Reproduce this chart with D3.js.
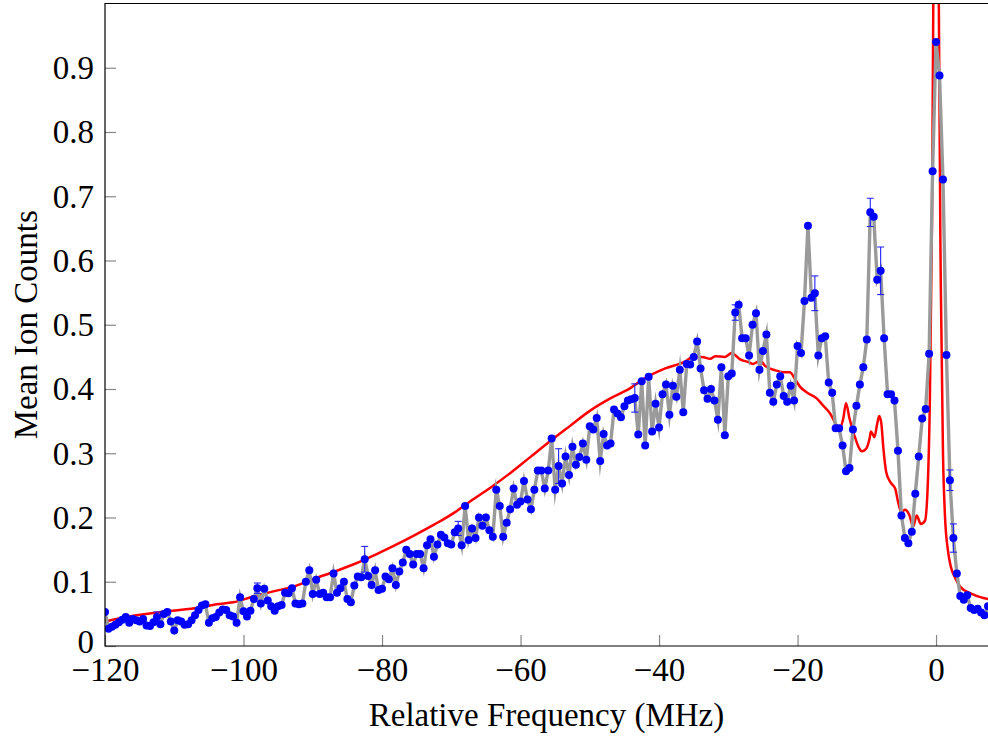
<!DOCTYPE html>
<html>
<head>
<meta charset="utf-8">
<script src="https://cdn.jsdelivr.net/npm/d3@7"></script>
<style>
  html, body { margin: 0; padding: 0; background: #fff; }
  svg { display: block; }
  text { font-family: "Liberation Serif", "DejaVu Serif", serif; fill: #000; }
</style>
</head>
<body>
<svg id="chart" width="988" height="736"></svg>
<script>
// ---------- data ----------
const freq = [
-120,-119.5,-119,-118.5,-118,-117.5,-117,-116.5,-116,-115.5,
-115,-114.5,-114,-113.5,-113,-112.5,-112,-111.5,-111,-110.5,
-110,-109.5,-109,-108.5,-108,-107.5,-107,-106.5,-106,-105.5,
-105,-104.5,-104,-103.5,-103,-102.5,-102,-101.5,-101,-100.5,
-100,-99.5,-99,-98.5,-98,-97.5,-97,-96.5,-96,-95.5,
-95,-94.5,-94,-93.5,-93,-92.5,-92,-91.5,-91,-90.5,
-90,-89.5,-89,-88.5,-88,-87.5,-87,-86.5,-86,-85.5,
-85,-84.5,-84,-83.5,-83,-82.5,-82,-81.5,-81,-80.5,
-80,-79.5,-79,-78.5,-78,-77.5,-77,-76.5,-76,-75.5,
-75,-74.5,-74,-73.5,-73,-72.5,-72,-71.5,-71,-70.5,
-70,-69.5,-69,-68.5,-68,-67.5,-67,-66.5,-66,-65.5,
-65,-64.5,-64,-63.5,-63,-62.5,-62,-61.5,-61,-60.5,
-60,-59.5,-59,-58.5,-58,-57.5,-57,-56.5,-56,-55.5,
-55,-54.5,-54,-53.5,-53,-52.5,-52,-51.5,-51,-50.5,
-50,-49.5,-49,-48.5,-48,-47.5,-47,-46.5,-46,-45.5,
-45,-44.5,-44,-43.5,-43,-42.5,-42,-41.5,-41,-40.5,
-40,-39.5,-39,-38.5,-38,-37.5,-37,-36.5,-36,-35.5,
-35,-34.5,-34,-33.5,-33,-32.5,-32,-31.5,-31,-30.5,
-30,-29.5,-29,-28.5,-28,-27.5,-27,-26.5,-26,-25.5,
-25,-24.5,-24,-23.5,-23,-22.5,-22,-21.5,-21,-20.5,
-20,-19.5,-19,-18.5,-18,-17.5,-17,-16.5,-16,-15.5,
-15,-14.5,-14,-13.5,-13,-12.5,-12,-11.5,-11,-10.5,
-10,-9.5,-9,-8.5,-8,-7.5,-7,-6.5,-6,-5.5,
-5,-4.5,-4,-3.5,-3,-2.5,-2,-1.5,-1,-0.5,
0,0.5,1,1.5,2,2.5,3,3.5,4,4.5,
5,5.5,6,6.5,7,7.5
];

const counts = [
0.053,0.027,0.030,0.033,0.037,0.041,0.045,0.036,0.042,0.040,
0.038,0.042,0.032,0.031,0.037,0.045,0.034,0.050,0.053,0.038,
0.024,0.040,0.038,0.033,0.034,0.040,0.048,0.056,0.063,0.065,
0.036,0.043,0.045,0.052,0.057,0.056,0.048,0.046,0.036,0.076,
0.054,0.046,0.055,0.073,0.090,0.066,0.089,0.071,0.062,0.055,
0.062,0.064,0.083,0.082,0.090,0.066,0.065,0.066,0.100,0.118,
0.081,0.103,0.081,0.083,0.076,0.076,0.113,0.083,0.090,0.100,
0.073,0.068,0.094,0.108,0.107,0.135,0.109,0.095,0.118,0.087,
0.089,0.108,0.104,0.121,0.095,0.116,0.130,0.150,0.143,0.127,
0.143,0.143,0.121,0.157,0.166,0.139,0.158,0.173,0.169,0.160,
0.158,0.177,0.183,0.157,0.218,0.165,0.183,0.168,0.200,0.187,
0.200,0.180,0.170,0.243,0.218,0.170,0.192,0.213,0.245,0.220,
0.225,0.257,0.228,0.213,0.243,0.273,0.273,0.245,0.273,0.323,
0.243,0.280,0.253,0.295,0.266,0.310,0.282,0.294,0.315,0.290,
0.342,0.337,0.355,0.288,0.330,0.312,0.315,0.368,0.362,0.356,
0.373,0.382,0.384,0.386,0.329,0.412,0.312,0.419,0.334,0.377,
0.340,0.392,0.407,0.360,0.405,0.388,0.430,0.364,0.439,0.438,
0.450,0.474,0.432,0.398,0.385,0.400,0.382,0.352,0.434,0.328,
0.420,0.424,0.519,0.531,0.479,0.479,0.452,0.500,0.518,0.430,
0.459,0.485,0.394,0.380,0.407,0.420,0.389,0.380,0.405,0.382,
0.467,0.456,0.537,0.654,0.542,0.549,0.452,0.479,0.482,0.410,
0.394,0.339,0.339,0.312,0.272,0.277,0.337,0.374,0.407,0.434,
0.477,0.675,0.668,0.570,0.584,0.479,0.392,0.392,0.382,0.304,
0.203,0.168,0.160,0.178,0.237,0.295,0.354,0.369,0.455,0.739,
0.940,0.888,0.726,0.453,0.258,0.168,0.113,0.078,0.072,0.079,
0.059,0.056,0.058,0.052,0.048,0.062
];

// error bars (frequency, half-width)
const errFreq = [-112.5, -98, -82.5, -69, -54.5, -43.5, -29, -17.5, -9.5, -8, 2, 2.5];
const errSize = [0.008, 0.008, 0.020, 0.011, 0.027, 0.022, 0.012, 0.027, 0.022, 0.037, 0.016, 0.022];

// simulated spectrum (red)
const simFreq = [
-120,-115.9,-111.1,-106.3,-103.9,-101.5,-98.6,-95.7,-92.6,-89.7,
-86.8,-83.9,-81.0,-78.1,-75.2,-72.3,-69.5,-67.3,-64.4,-61.5,
-58.6,-55.7,-52.8,-50.0,-47.1,-44.2,-42.0,-39.1,-36.2,-35.3,
-33.8,-32.6,-31.9,-30.5,-29.5,-28.3,-27.1,-26.4,-25.4,-24.7,
-23.2,-21.8,-21.1,-20.4,-19.6,-18.7,-17.2,-16.3,-15.3,-14.3,
-13.9,-13.4,-13.0,-12.5,-11.8,-11.2,-10.7,-10.1,-9.6,-9.4,
-8.9,-8.5,-8.2,-7.9,-7.6,-7.2,-6.6,-5.9,-5.5,-5.0,
-4.5,-3.9,-3.3,-2.8,-2.2,-1.6,-1.2,-0.9,-0.6,-0.4,
-0.2,0,0.2,0.4,0.7,1.0,1.3,1.7,2.1,2.8,
3.5,5.0,6.4,7.5
];
const simCounts = [
0.038,0.047,0.054,0.060,0.065,0.068,0.077,0.085,0.093,0.105,
0.116,0.128,0.142,0.157,0.173,0.190,0.208,0.225,0.246,0.269,
0.294,0.319,0.343,0.366,0.385,0.401,0.417,0.432,0.443,0.449,
0.450,0.447,0.451,0.450,0.456,0.446,0.442,0.439,0.444,0.436,
0.429,0.426,0.426,0.416,0.403,0.395,0.385,0.374,0.362,0.343,
0.339,0.354,0.378,0.354,0.328,0.310,0.303,0.307,0.323,0.334,
0.325,0.346,0.358,0.346,0.307,0.271,0.255,0.245,0.225,0.208,
0.212,0.205,0.186,0.203,0.190,0.195,0.250,0.380,0.650,1.000,
1.800,2.500,1.800,1.000,0.550,0.300,0.200,0.150,0.125,0.105,
0.092,0.082,0.076,0.073
];

const xTicks = [-120, -100, -80, -60, -40, -20, 0];
const yTicks = [0, 0.1, 0.2, 0.3, 0.4, 0.5, 0.6, 0.7, 0.8, 0.9];
const xLabel = "Relative Frequency (MHz)";
const yLabel = "Mean Ion Counts";

// ---------- layout ----------
const W = 988, H = 736;
const L = 105, R = 988, T = 3.5, B = 646;
const FS = 33;
const svg = d3.select("#chart");

const x = d3.scaleLinear().domain([-120, 7.5]).range([L, R]);
const y = d3.scaleLinear().domain([0, 1]).range([B, T]);

svg.append("defs").append("clipPath").attr("id", "plotclip")
  .append("rect").attr("x", L).attr("y", T).attr("width", R - L).attr("height", B - T);

const data = freq.map((f, i) => ({ f, c: counts[i] }));
const sim = simFreq.map((f, i) => ({ f, c: simCounts[i] }));
const errs = errFreq.map((f, i) => ({ f, c: counts[freq.indexOf(f)], e: errSize[i] }));

const plot = svg.append("g").attr("clip-path", "url(#plotclip)");

// red simulated curve
plot.append("path")
  .datum(sim)
  .attr("fill", "none")
  .attr("stroke", "#ff0000")
  .attr("stroke-width", 2.5)
  .attr("stroke-linejoin", "round")
  .attr("d", d3.line().x(d => x(d.f)).y(d => y(d.c)).curve(d3.curveMonotoneX));

// gray connecting line
plot.append("path")
  .datum(data)
  .attr("fill", "none")
  .attr("stroke", "#9a9a9a")
  .attr("stroke-width", 3.4)
  .attr("stroke-linejoin", "miter")
  .attr("stroke-miterlimit", 10)
  .attr("d", d3.line().x(d => x(d.f)).y(d => y(d.c)));

// error bars
const eb = plot.append("g").attr("stroke", "#2020ff").attr("stroke-width", 1.1).attr("fill", "none");
errs.forEach(d => {
  const cx = x(d.f), y1 = y(d.c + d.e), y2 = y(d.c - d.e);
  eb.append("line").attr("x1", cx).attr("x2", cx).attr("y1", y1).attr("y2", y2);
  eb.append("line").attr("x1", cx - 3.5).attr("x2", cx + 3.5).attr("y1", y1).attr("y2", y1);
  eb.append("line").attr("x1", cx - 3.5).attr("x2", cx + 3.5).attr("y1", y2).attr("y2", y2);
});

// markers
plot.append("g").selectAll("circle").data(data).join("circle")
  .attr("cx", d => x(d.f)).attr("cy", d => y(d.c)).attr("r", 4)
  .attr("fill", "#0000ff");

// ---------- axes ----------
const xAxis = svg.append("g").attr("transform", `translate(0,${B})`)
  .call(d3.axisBottom(x).tickValues(xTicks).tickSize(-11).tickPadding(0)
    .tickFormat(d => d < 0 ? "\u2212" + Math.abs(d) : String(d)));
xAxis.select(".domain").remove();
xAxis.selectAll(".tick line").attr("stroke", "#888").attr("stroke-width", 1.2);
xAxis.selectAll(".tick text").attr("y", 35).attr("dy", 0).attr("font-size", FS)
  .attr("font-family", "Liberation Serif, serif").attr("fill", "#000");

const yAxis = svg.append("g").attr("transform", `translate(${L},0)`)
  .call(d3.axisLeft(y).tickValues(yTicks).tickSize(-11).tickPadding(0)
    .tickFormat(d => d === 0 ? "0" : d3.format(".1f")(d)));
yAxis.select(".domain").remove();
yAxis.selectAll(".tick line").attr("stroke", "#888").attr("stroke-width", 1.2);
yAxis.selectAll(".tick text").attr("x", -11).attr("dy", "0.33em").attr("font-size", FS)
  .attr("font-family", "Liberation Serif, serif").attr("fill", "#000").attr("text-anchor", "end");
// lift the "0" label slightly so it clears the x tick labels
yAxis.selectAll(".tick text").filter(d => d === 0).attr("dy", "0.2em");

// frame (left, top, bottom; right edge lies at the picture border)
svg.append("path")
  .attr("d", `M${R + 1},${T} L${L},${T} L${L},${B} L${R + 1},${B}`)
  .attr("fill", "none").attr("stroke", "#000").attr("stroke-width", 1.2);

// axis titles
svg.append("text")
  .attr("x", (L + R) / 2).attr("y", 726)
  .attr("text-anchor", "middle").attr("font-size", FS)
  .text(xLabel);

svg.append("text")
  .attr("transform", `translate(37,${(T + B) / 2}) rotate(-90)`)
  .attr("text-anchor", "middle").attr("font-size", FS)
  .text(yLabel);
</script>
</body>
</html>
